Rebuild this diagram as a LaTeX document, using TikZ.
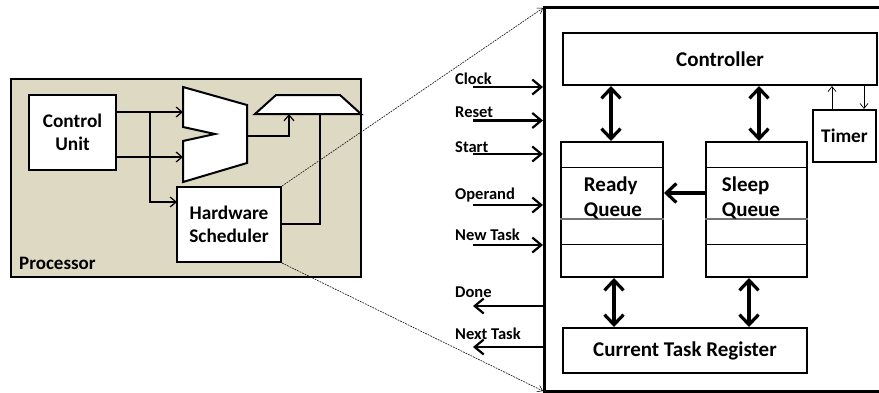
\documentclass[tikz,border=0pt]{standalone}
\usepackage{fontspec}
\setmainfont{Carlito}
\usetikzlibrary{arrows.meta,calc}
\definecolor{procfill}{HTML}{DDD9C3}
\tikzset{
  x=1pt,y=-1pt,
  every node/.style={font=\bfseries\fontsize{21}{23}\selectfont},
  blk/.style={draw=black,line width=2pt,fill=white,inner sep=0pt,align=center},
  smalltext/.style={font=\bfseries\fontsize{19.3}{23}\selectfont},
  lab/.style={inner sep=0pt,anchor=west,font=\bfseries\fontsize{16.5}{18}\selectfont},
  wire/.style={line width=1.4pt,-{Straight Barb[length=6pt,width=10pt,line width=1.2pt]}},
  plainwire/.style={line width=1.5pt},
  port/.style={line width=2.6pt,-{Straight Barb[length=9pt,width=15pt,line width=2.2pt]}},
  thin wire/.style={line width=.7pt,-{Straight Barb[length=5pt,width=8pt,line width=.7pt]}},
  bus/.style={line width=3.6pt,{Straight Barb[length=10pt,width=19pt,line width=3.2pt]}-{Straight Barb[length=10pt,width=19pt,line width=3.2pt]}},
  busleft/.style={line width=3.6pt,-{Straight Barb[length=10pt,width=19pt,line width=3.2pt]}},
  zoomline/.style={dash pattern=on 1.8pt off 1pt,line width=.7pt,black!85},
  muxshape/.style={draw=black,line width=2pt,fill=white,line join=miter},
  rowline/.style={line width=.8pt},
}
\begin{document}
\begin{tikzpicture}
\useasboundingbox (0,0) rectangle (879,392);
\fill[white] (0,0) rectangle (879,392);
% processor
\node[draw=black,line width=2pt,fill=procfill,minimum width=350.5pt,minimum height=198pt,inner sep=0pt] (proc) at (185.75,178) {};
\node[inner sep=0pt,anchor=west,font=\bfseries\fontsize{19}{21}\selectfont] (proclab) at (19,263) {Processor};
\node[blk,smalltext,minimum width=87pt,minimum height=75pt] (cu) at (72.5,132.5) {Control\\Unit};
\node[blk,smalltext,minimum width=104pt,minimum height=75pt] (hs) at (229,224.5) {Hardware\\Scheduler};
% multiplexers
\draw[muxshape] (183,87) -- (247,105) -- (247,163) -- (183,182) -- (183,141) -- (215,134) -- (183,127) -- cycle;
\draw[muxshape] (255,114) -- (276,95) -- (340,95) -- (361,114) -- cycle;
\coordinate (muxa1) at (183,112);
\coordinate (muxa2) at (183,157);
\coordinate (muxaout) at (247,136);
\coordinate (muxb1) at (289,114);
\coordinate (muxb2) at (320,114);
\coordinate (cuo1) at (116,112);
\coordinate (cuo2) at (116,157);
\coordinate (hsin) at (177,202);
\coordinate (hsout) at (281,224);
\coordinate (branch) at (150,112);
\draw[wire] (cuo1) -- (muxa1);
\draw[wire] (cuo2) -- (muxa2);
\draw[wire] (branch) |- (hsin);
\draw[wire] (muxaout) -| (muxb1);
\draw[plainwire] (hsout) -| (muxb2);
% accelerator frame
\coordinate (ftr) at (879,7.5);
\coordinate (ftl) at (544,7.5);
\coordinate (fbl) at (544,391);
\coordinate (fbr) at (879,391);
\draw[line width=3pt,line join=miter] (ftr) -- (ftl) -- (fbl) -- (fbr);
% zoom lines
\draw[zoomline,-{Straight Barb[length=5pt,width=7pt,line width=.5pt,black]}] (hs.north east) -- (543,8);
\draw[zoomline,-{Straight Barb[length=5pt,width=7pt,line width=.5pt,black]}] (hs.south east) -- (543,391);
% blocks
\node[blk,minimum width=314pt,minimum height=52pt] (ctrl) at (720,59) {Controller};
\node[blk,smalltext,minimum width=63pt,minimum height=52pt] (timer) at (844.5,136) {Timer};
\node[blk,minimum width=102pt,minimum height=135pt] (ready) at (612,209.5) {};
\node[blk,minimum width=101pt,minimum height=135pt] (sleep) at (756.5,209.5) {};
\node[blk,minimum width=244pt,minimum height=45pt] (ctr) at (685,350.5) {Current Task Register};
\draw[rowline] (ready.west |- 0,167) -- (ready.east |- 0,167);
\draw[rowline,black!55,line width=1.2pt] (ready.west |- 0,219) -- (ready.east |- 0,219);
\draw[rowline] (ready.west |- 0,244) -- (ready.east |- 0,244);
\draw[rowline] (sleep.west |- 0,167) -- (sleep.east |- 0,167);
\draw[rowline,black!55,line width=1.2pt] (sleep.west |- 0,219) -- (sleep.east |- 0,219);
\draw[rowline] (sleep.west |- 0,244) -- (sleep.east |- 0,244);
\node[inner sep=0pt,align=left,font=\bfseries\fontsize{21}{25}\selectfont] (readylab) at (613,198) {Ready\\Queue};
\node[inner sep=0pt,align=left,font=\bfseries\fontsize{21}{25}\selectfont] (sleeplab) at (751,198) {Sleep\\Queue};
% buses
\draw[bus] (611,0 |- ctrl.south) -- (611,0 |- ready.north);
\draw[bus] (759,0 |- ctrl.south) -- (759,0 |- sleep.north);
\draw[bus] (614,0 |- ready.south) -- (614,0 |- ctr.north);
\draw[bus] (749,0 |- sleep.south) -- (749,0 |- ctr.north);
\draw[busleft] (sleep.west |- 0,193) -- (ready.east |- 0,193);
\draw[thin wire] (832,0 |- timer.north) -- (832,0 |- ctrl.south);
\draw[thin wire] (864,0 |- ctrl.south) -- (864,0 |- timer.north);
% ports
\foreach \nm/\yy/\txt/\ly in {clk/87/Clock/79,rst/120.5/Reset/112,st/154/Start/147,op/205/Operand/195,nt/245/New Task/235}{
  \coordinate (\nm a) at (473,\yy);
  \coordinate (\nm b) at (543,\yy);
  \draw[port] (\nm a) -- (\nm b);
  \node[lab] (\nm l) at (455,\ly) {\txt};
}
\foreach \nm/\yy/\txt/\ly in {dn/306/Done/292,nx/347/Next Task/334}{
  \coordinate (\nm a) at (544,\yy);
  \coordinate (\nm b) at (473,\yy);
  \draw[port] (\nm a) -- (\nm b);
  \node[lab] (\nm l) at (455,\ly) {\txt};
}
\end{tikzpicture}
\end{document}
